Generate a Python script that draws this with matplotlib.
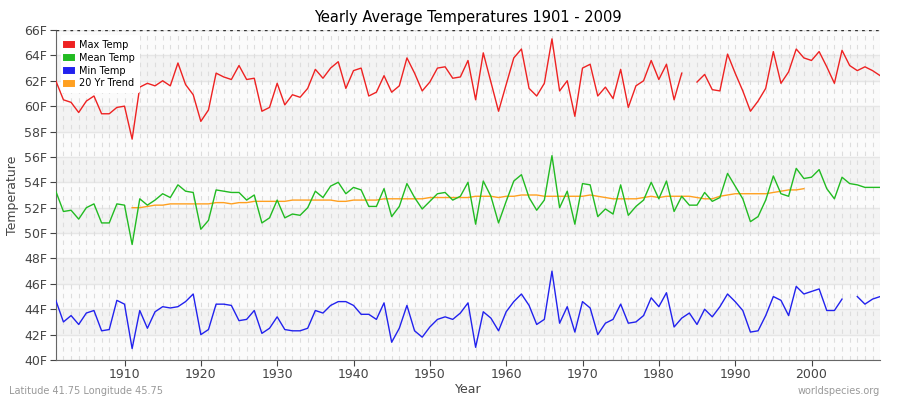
import numpy as np
import matplotlib.pyplot as plt

years = np.arange(1901, 2010)

max_temp = [62.0, 60.5, 60.3, 59.5, 60.4, 60.8, 59.4, 59.4, 59.9, 60.0,
            57.4, 61.5, 61.8, 61.6, 62.0, 61.6, 63.4, 61.7, 60.9, 58.8,
            59.7, 62.6, 62.3, 62.1, 63.2, 62.1, 62.2, 59.6, 59.9, 61.8,
            60.1, 60.9, 60.7, 61.4, 62.9, 62.2, 63.0, 63.5, 61.4, 62.8,
            63.0, 60.8, 61.1, 62.4, 61.1, 61.6, 63.8, 62.6, 61.2, 61.9,
            63.0, 63.1, 62.2, 62.3, 63.6, 60.5, 64.2, 61.9, 59.6, 61.7,
            63.8, 64.5, 61.4, 60.8, 61.8, 65.3, 61.2, 62.0, 59.2, 63.0,
            63.3, 60.8, 61.5, 60.6, 62.9, 59.9, 61.6, 62.0, 63.6, 62.1,
            63.3, 60.5, 62.6, np.nan, 61.9, 62.5, 61.3, 61.2, 64.1, 62.6,
            61.2, 59.6, 60.4, 61.4, 64.3, 61.8, 62.7, 64.5, 63.8, 63.6,
            64.3, 63.1, 61.8, 64.4, 63.2, 62.8, 63.1, 62.8, 62.4]

mean_temp = [53.3, 51.7, 51.8, 51.1, 52.0, 52.3, 50.8, 50.8, 52.3, 52.2,
             49.1, 52.7, 52.2, 52.6, 53.1, 52.8, 53.8, 53.3, 53.2, 50.3,
             51.0, 53.4, 53.3, 53.2, 53.2, 52.6, 53.0, 50.8, 51.2, 52.6,
             51.2, 51.5, 51.4, 52.0, 53.3, 52.8, 53.7, 54.0, 53.1, 53.6,
             53.4, 52.1, 52.1, 53.5, 51.3, 52.1, 53.9, 52.8, 51.9, 52.5,
             53.1, 53.2, 52.6, 52.9, 54.0, 50.7, 54.1, 52.9, 50.8, 52.5,
             54.1, 54.6, 52.8, 51.8, 52.6, 56.1, 52.0, 53.3, 50.7, 53.9,
             53.8, 51.3, 51.9, 51.5, 53.8, 51.4, 52.1, 52.6, 54.0, 52.7,
             54.1, 51.7, 52.9, 52.2, 52.2, 53.2, 52.5, 52.8, 54.7, 53.7,
             52.7, 50.9, 51.3, 52.6, 54.5, 53.1, 52.9, 55.1, 54.3, 54.4,
             55.0, 53.5, 52.7, 54.4, 53.9, 53.8, 53.6, 53.6, 53.6]

min_temp = [44.7, 43.0, 43.5, 42.8, 43.7, 43.9, 42.3, 42.4, 44.7, 44.4,
            40.9, 43.9, 42.5, 43.8, 44.2, 44.1, 44.2, 44.6, 45.2, 42.0,
            42.4, 44.4, 44.4, 44.3, 43.1, 43.2, 43.9, 42.1, 42.5, 43.4,
            42.4, 42.3, 42.3, 42.5, 43.9, 43.7, 44.3, 44.6, 44.6, 44.3,
            43.6, 43.6, 43.2, 44.5, 41.4, 42.5, 44.3, 42.3, 41.8, 42.6,
            43.2, 43.4, 43.2, 43.7, 44.5, 41.0, 43.8, 43.3, 42.3, 43.8,
            44.6, 45.2, 44.3, 42.8, 43.2, 47.0, 42.9, 44.2, 42.2, 44.6,
            44.1, 42.0, 42.9, 43.2, 44.4, 42.9, 43.0, 43.5, 44.9, 44.2,
            45.3, 42.6, 43.3, 43.7, 42.8, 44.0, 43.4, 44.2, 45.2, 44.6,
            43.9, 42.2, 42.3, 43.5, 45.0, 44.7, 43.5, 45.8, 45.2, 45.4,
            45.6, 43.9, 43.9, 44.8, np.nan, 45.0, 44.4, 44.8, 45.0]

trend_years = np.arange(1911, 2000)
trend = [52.0, 52.0, 52.1, 52.2, 52.2, 52.3, 52.3, 52.3, 52.3, 52.3,
         52.3, 52.4, 52.4, 52.3, 52.4, 52.4, 52.5, 52.5, 52.5, 52.5,
         52.5, 52.6, 52.6, 52.6, 52.6, 52.6, 52.6, 52.5, 52.5, 52.6,
         52.6, 52.6, 52.6, 52.7, 52.7, 52.7, 52.7, 52.7, 52.7, 52.8,
         52.8, 52.8, 52.8, 52.8, 52.8, 52.9, 52.9, 52.9, 52.8, 52.9,
         52.9, 53.0, 53.0, 53.0, 52.9, 52.9, 52.9, 52.9, 52.9, 52.9,
         53.0, 52.9, 52.8, 52.7, 52.7, 52.7, 52.7, 52.8, 52.9, 52.8,
         52.9, 52.9, 52.9, 52.9, 52.8, 52.7, 52.7, 52.9, 53.0, 53.1,
         53.1, 53.1, 53.1, 53.1, 53.2, 53.3, 53.4, 53.4, 53.5]

yticks = np.arange(40, 67, 2)

fig = plt.figure(figsize=(9, 4), dpi=100)
ax = fig.add_axes([0.062, 0.1, 0.916, 0.825])

# alternating horizontal bands
for i, y in enumerate(yticks[:-1]):
    ax.axhspan(y, y + 2, color='#f3f3f3' if i % 2 else '#fbfbfb', zorder=0, lw=0)
for y in yticks:
    ax.axhline(y, color='#e6e6e6', lw=1, zorder=0.5)
for yr in years:
    ax.axvline(yr, color='#dddddd', lw=0.8, ls=(0, (4, 4)), zorder=0.5)

ax.plot(years, max_temp, color='#ee2222', lw=1, label='Max Temp', zorder=3)
ax.plot(years, mean_temp, color='#22bb22', lw=1, label='Mean Temp', zorder=3)
ax.plot(years, min_temp, color='#2222ee', lw=1, label='Min Temp', zorder=3)
ax.plot(trend_years, trend, color='#ffa020', lw=1, label='20 Yr Trend', zorder=2)

ax.set_xlim(1901, 2009)
ax.set_ylim(40, 66)
ax.set_yticks(yticks)
ax.set_yticklabels([f'{v}F' for v in yticks])
ax.set_xticks([1910, 1920, 1930, 1940, 1950, 1960, 1970, 1980, 1990, 2000])
ax.tick_params(colors='#444444', labelsize=9, length=4, pad=2)
for s in ['top', 'right']:
    ax.spines[s].set_visible(False)
ax.spines['left'].set_color('#666666')
ax.spines['bottom'].set_color('#666666')
ax.axhline(66, color='#333333', lw=1, ls=(0, (2, 3)), zorder=4)

ax.set_title('Yearly Average Temperatures 1901 - 2009', fontsize=10.5)
ax.set_xlabel('Year', fontsize=9, color='#444444', labelpad=1)
ax.set_ylabel('Temperature', fontsize=9, color='#444444')

leg = ax.legend(loc='upper left', fontsize=7, frameon=True, handlelength=0.6,
                handleheight=0.6, borderpad=0.5, labelspacing=0.3, framealpha=1)
leg.get_frame().set_edgecolor('none')
for h in leg.legend_handles:
    h.set_linewidth(5)

fig.text(0.01, 0.015, 'Latitude 41.75 Longitude 45.75', fontsize=7, color='#999999')
fig.text(0.978, 0.015, 'worldspecies.org', fontsize=7, color='#999999', ha='right')

fig.savefig('out.png')
